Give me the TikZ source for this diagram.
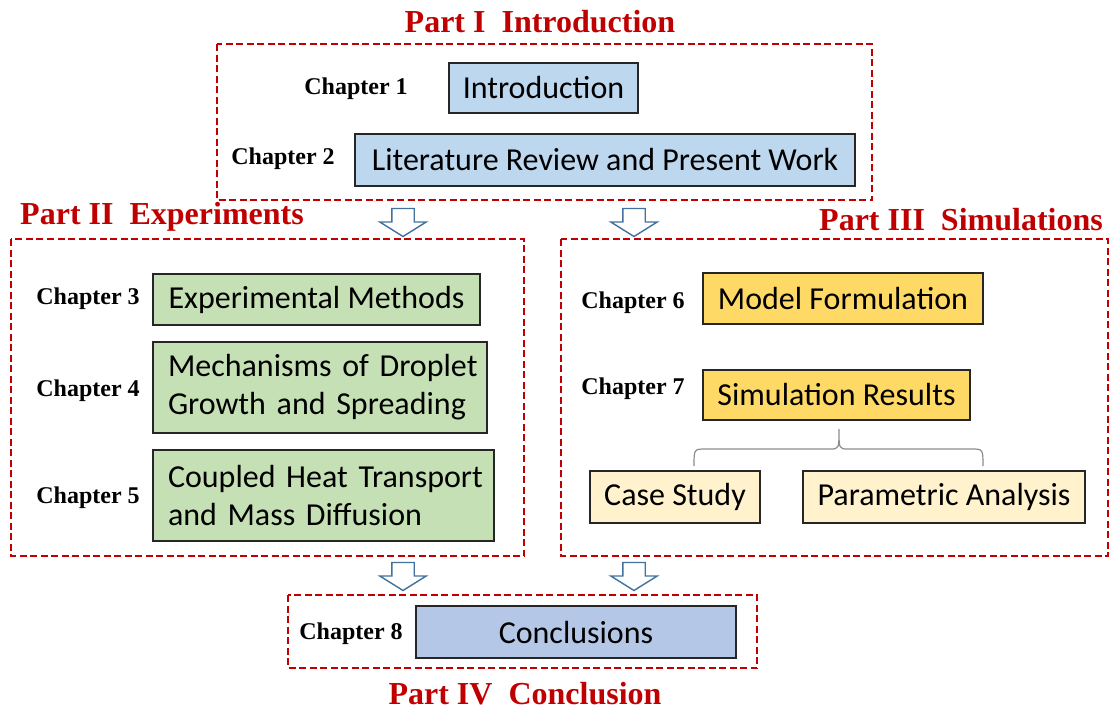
\documentclass[tikz,border=0pt]{standalone}
\usepackage{fontspec}
\setmainfont{Liberation Serif}
\newfontfamily\boxfont{Carlito}
\usetikzlibrary{shapes.arrows}

\definecolor{partred}{HTML}{C00000}
\definecolor{introblue}{HTML}{BDD7EE}
\definecolor{expgreen}{HTML}{C5E0B4}
\definecolor{simgold}{HTML}{FFD966}
\definecolor{simcream}{HTML}{FFF2CC}
\definecolor{endblue}{HTML}{B4C7E7}
\definecolor{arrowblue}{HTML}{41719C}

\tikzset{
  parttitle/.style={text=partred, font=\bfseries\fontsize{32}{36}\selectfont},
  partbox/.style={draw=partred, line width=2pt, dash pattern=on 7pt off 3.5pt},
  chaplabel/.style={font=\bfseries\fontsize{24}{28}\selectfont, yshift=-2pt},
  chapbox/.style={draw=black!85, line width=1.3pt, inner sep=0pt,
    font=\boxfont\fontsize{32}{38}\selectfont},
  twoline/.style={align=left, inner xsep=15pt, text width=#1},
  flowarrow/.style={single arrow, draw=arrowblue, fill=white, line width=1.4pt,
    shape border rotate=270, minimum height=28,
    single arrow head extend=12, single arrow tip angle=116, inner sep=0pt}
}

\begin{document}
\begin{tikzpicture}[x=1pt, y=-1pt]
  \useasboundingbox (0,0) rectangle (1112,710);

  % Part I
  \node[parttitle] (t1) at (540,22) {Part I~~Introduction};
  \draw[partbox] (217,44) rectangle (872,200);
  \node[chaplabel] (c1) at (356,87) {Chapter 1};
  \node[chapbox, fill=introblue, minimum width=189, minimum height=50] (intro) at (543.5,88) {Introduction};
  \node[chaplabel] (c2) at (283,157) {Chapter 2};
  \node[chapbox, fill=introblue, minimum width=500, minimum height=52] (lit) at (605,160) {Literature Review and Present Work};

  % arrows down into parts II and III
  \node[flowarrow] (a1) at (403,219) {\rule{21pt}{0pt}};
  \node[flowarrow] (a2) at (634,219) {\rule{21pt}{0pt}};

  % Part II
  \node[parttitle] (t2) at (162,217) {Part II~~Experiments};
  \draw[partbox] (11,239) rectangle (524,556);
  \node[chaplabel] (c3) at (88,297) {Chapter 3};
  \node[chapbox, fill=expgreen, minimum width=327, minimum height=51] (expm) at (316.5,299.5) {Experimental Methods};
  \node[chaplabel] (c4) at (88,389) {Chapter 4};
  \node[chapbox, fill=expgreen, twoline=304, minimum height=91] (mech) at (320,387.5)
    {\mbox{Mechanisms of Droplet}\\\mbox{Growth and Spreading}};
  \node[chaplabel] (c5) at (88,496) {Chapter 5};
  \node[chapbox, fill=expgreen, twoline=311, minimum height=91] (coup) at (323.5,495.5)
    {\mbox{Coupled Heat Transport}\\\mbox{and Mass Diffusion}};

  % Part III
  \node[parttitle] (t3) at (961,220) {Part III~~Simulations};
  \draw[partbox] (561,239) rectangle (1108,556);
  \node[chaplabel] (c6) at (633,301) {Chapter 6};
  \node[chapbox, fill=simgold, minimum width=280, minimum height=51] (model) at (843,298.5) {Model Formulation};
  \node[chaplabel] (c7) at (633,387) {Chapter 7};
  \node[chapbox, fill=simgold, minimum width=267, minimum height=50] (simres) at (836.5,395) {Simulation Results};
  \node[chapbox, fill=simcream, minimum width=170, minimum height=52] (case) at (675,497) {Case Study};
  \node[chapbox, fill=simcream, minimum width=282, minimum height=52] (param) at (944,497) {Parametric Analysis};
  % brace over the two sub-items
  \draw[black!45, line width=1.2pt] (694,466) .. controls (694,449) .. (706,449) -- (830,449)
    .. controls (839,449) .. (839,429) .. controls (839,449) .. (848,449) -- (971,449)
    .. controls (983,449) .. (983,466);

  % arrows down into part IV
  \node[flowarrow] (a3) at (403,573) {\rule{21pt}{0pt}};
  \node[flowarrow] (a4) at (634,573) {\rule{21pt}{0pt}};

  % Part IV
  \draw[partbox] (288,595) rectangle (757,668);
  \node[chaplabel] (c8) at (351,632) {Chapter 8};
  \node[chapbox, fill=endblue, minimum width=320, minimum height=52] (concl) at (576,632) {Conclusions};
  \node[parttitle] (t4) at (525,694) {Part IV~~Conclusion};
\end{tikzpicture}
\end{document}
